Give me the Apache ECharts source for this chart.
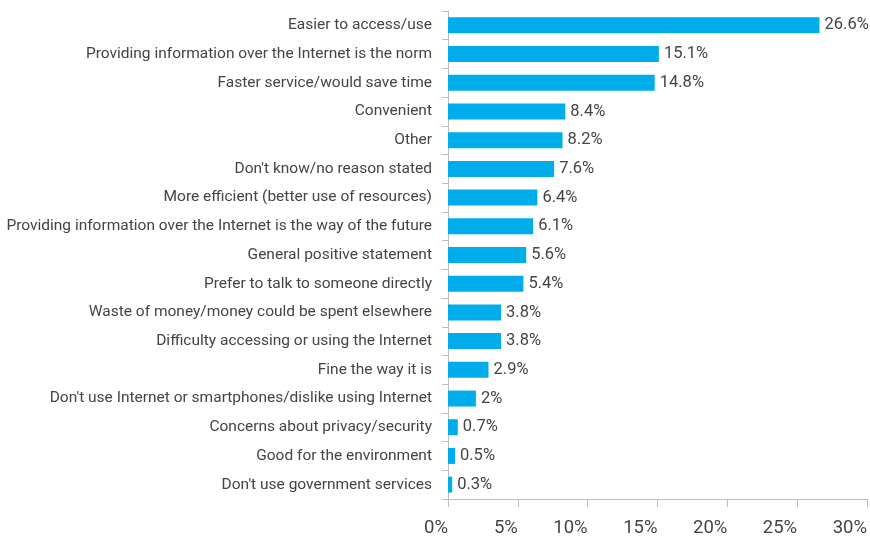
<!DOCTYPE html>
<html>
<head>
<meta charset="utf-8">
<script src="https://cdn.jsdelivr.net/npm/echarts@6/dist/echarts.min.js"></script>
<style>
  html, body { margin: 0; padding: 0; background: #ffffff; }
  #chart { width: 870px; height: 540px; }
</style>
</head>
<body>
<div id="chart"></div>
<script>
// Reasons given, listed top to bottom
const categories = [
  "Easier to access/use",
  "Providing information over the Internet is the norm",
  "Faster service/would save time",
  "Convenient",
  "Other",
  "Don't know/no reason stated",
  "More efficient (better use of resources)",
  "Providing information over the Internet is the way of the future",
  "General positive statement",
  "Prefer to talk to someone directly",
  "Waste of money/money could be spent elsewhere",
  "Difficulty accessing or using the Internet",
  "Fine the way it is",
  "Don't use Internet or smartphones/dislike using Internet",
  "Concerns about privacy/security",
  "Good for the environment",
  "Don't use government services"
];

// Share of respondents (%)
const shares = [26.6, 15.1, 14.8, 8.4, 8.2, 7.6, 6.4, 6.1, 5.6, 5.4, 3.8, 3.8, 2.9, 2, 0.7, 0.5, 0.3];

// Value axis ticks
const axisMin = 0;
const axisMax = 30;
const axisStep = 5;

const FONT = "Roboto, 'Liberation Sans', sans-serif";
const TEXT = "#444444";
const AXIS = "#bdbdbd";

const chart = echarts.init(document.getElementById("chart"), null, { renderer: "canvas" });

chart.setOption({
  animation: false,
  backgroundColor: "#ffffff",
  grid: { left: 448, right: 2, top: 11, bottom: 41, containLabel: false },
  xAxis: {
    type: "value",
    min: axisMin,
    max: axisMax,
    interval: axisStep,
    splitLine: { show: false },
    axisLine: { show: true, lineStyle: { color: AXIS, width: 1 } },
    axisTick: { show: true, length: 8, lineStyle: { color: AXIS } },
    axisLabel: {
      formatter: v => v + "%",
      align: "right",
      margin: 20,
      fontFamily: FONT,
      fontSize: 18.5,
      color: TEXT
    }
  },
  yAxis: {
    type: "category",
    inverse: true,
    data: categories,
    boundaryGap: true,
    axisLine: { show: true, lineStyle: { color: AXIS, width: 1 } },
    axisTick: { show: true, length: 6, lineStyle: { color: AXIS } },
    axisLabel: {
      margin: 16,
      fontFamily: FONT,
      fontSize: 15.5,
      color: TEXT
    }
  },
  series: [{
    type: "bar",
    data: shares,
    barWidth: 16,
    itemStyle: { color: "#00adea" },
    label: {
      show: true,
      position: "right",
      distance: 5,
      formatter: p => p.value + "%",
      fontFamily: FONT,
      fontSize: 16.5,
      color: TEXT
    }
  }]
});
</script>
</body>
</html>
